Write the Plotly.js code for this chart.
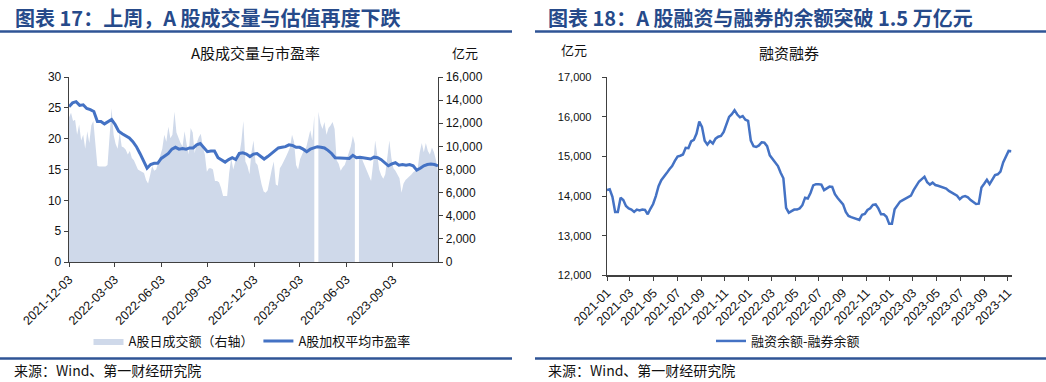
<!DOCTYPE html>
<html><head><meta charset="utf-8">
<script src="https://cdn.plot.ly/plotly-3.0.1.min.js"></script>
<style>html,body{margin:0;padding:0;background:#fff}#c{width:1046px;height:382px}</style>
</head><body><div id="c"></div>
<script>
// ---------- data: left chart (A股成交量与市盈率) ----------
const volStart = '2021-12-03';   // volume sampled every 4 days
const volStepDays = 4;
const volume = [ // 亿元 (null = market holiday gap)
 12500,12900,12200,12300,11000,11900,10500,11000,9800,11300,
 10300,11800,12200,10000,8300,8250,8250,8300,8250,8400,
 10800,13300,11000,10200,9800,11200,10000,9900,9700,9300,
 9600,9000,8800,8400,8000,7900,7800,7700,7100,6800,
 7500,8300,7900,8000,8600,9300,9800,11000,10400,11700,
 10700,11000,13000,11200,10700,10300,10000,11300,10200,9300,
 11600,11200,9400,10300,10800,11100,10000,9300,7800,8100,
 8100,8000,7000,7000,6900,6400,5700,5700,5700,7700,
 9000,8000,8700,9000,9300,10400,12200,8700,8300,7600,
 9500,10500,8600,8400,7500,6700,6100,6000,6200,7300,
 8000,8700,6700,6600,8100,8400,8700,9100,9500,9900,
 11000,10400,8400,8000,8900,9300,9700,9900,10600,11400,
 10500,12700,null,13000,12000,11500,12100,11000,11600,11800,
 12100,11500,8800,8500,7900,8200,8400,8900,9500,10000,
 10900,10200,null,9000,9200,8700,8300,7900,7500,7000,
 8500,10500,9300,8000,7500,7200,7600,8900,10500,9000,
 8100,7900,7600,7250,6000,6800,7100,7250,7400,7600,
 7800,7900,8100,9500,10300,9500,10300,9600,9300,9900,
 9500,8800,7800
];
const peStart = '2021-12-03';    // P/E sampled weekly
const peStepDays = 7;
const pe = [
 25.2,25.8,26.0,25.4,25.5,24.9,24.7,24.4,22.8,22.8,
 22.4,22.8,23.1,22.3,21.2,20.8,20.4,20.1,19.5,18.7,
 17.6,16.4,15.2,15.8,16.0,16.0,16.8,17.2,17.6,18.3,
 18.6,18.3,18.4,18.3,18.5,18.5,19.0,19.2,18.5,17.9,
 18.0,18.0,16.9,16.6,16.2,16.6,16.9,16.6,17.6,17.7,
 17.5,17.1,17.5,17.6,17.2,16.7,17.1,17.6,18.1,18.5,
 18.6,18.7,19.0,18.9,18.6,18.6,18.3,17.9,18.3,18.5,
 18.7,18.6,18.5,18.1,17.6,16.9,16.9,16.9,16.9,16.8,
 17.3,16.9,17.0,16.9,16.8,16.7,17.0,16.9,16.6,16.1,
 15.6,15.9,16.1,15.7,15.8,15.7,15.8,15.6,14.9,15.2,
 15.6,15.8,15.9,15.8,15.6
];
const leftTicks = ['2021-12-03','2022-03-03','2022-06-03','2022-09-03','2022-12-03','2023-03-03','2023-06-03','2023-09-03'];

// ---------- data: right chart (融资融券) ----------
const marginStart = '2021-01-01'; // weekly
const marginStepDays = 7;
const marginBalance = [
 14150,14170,13980,13600,13600,13960,13900,13750,13690,13660,
 13600,13660,13640,13660,13650,13540,13680,13800,14000,14250,
 14400,14480,14580,14680,14760,14890,15000,15020,15050,15220,
 15210,15380,15420,15580,15880,15750,15400,15300,15390,15330,
 15450,15500,15520,15620,15800,16000,16070,16170,16060,15990,
 16020,15930,15900,15400,15260,15240,15280,15360,15350,15260,
 15030,14940,14860,14760,14590,14450,13700,13580,13620,13660,
 13660,13690,13770,13960,13940,14080,14270,14300,14300,14290,
 14150,14190,14240,14230,14050,13950,13880,13790,13600,13500,
 13470,13440,13420,13400,13530,13550,13650,13690,13780,13790,
 13690,13540,13540,13480,13300,13300,13670,13780,13860,13900,
 13940,13970,14010,14150,14270,14370,14430,14490,14350,14290,
 14340,14280,14260,14240,14220,14190,14130,14090,14050,14010,
 13920,13980,14000,13970,13900,13850,13800,13810,14220,14310,
 14410,14300,14420,14530,14550,14620,14850,15010,15140,15130
];
const rightTicks = ['2021-01','2021-03','2021-05','2021-07','2021-09','2021-11','2022-01','2022-03','2022-05','2022-07','2022-09','2022-11','2023-01','2023-03','2023-05','2023-07','2023-09','2023-11'];

// ---------- helpers ----------
function dateSeq(start, step, n){
  const d0 = new Date(start + 'T00:00:00Z').getTime();
  const out = [];
  for (let i = 0; i < n; i++){
    out.push(new Date(d0 + i*step*86400000).toISOString().slice(0,10));
  }
  return out;
}
const W = 1046, H = 382;
const px = v => v / W, py = v => 1 - v / H;

const CJK = '"Noto Sans CJK SC", "Noto Sans", sans-serif';
const LAT = '"Liberation Sans", Arial, sans-serif';
const BLUE = '#4472C4';
const AREA = '#cfd9ea';
const HEAD = '#264a8a';
const RULE = '#2f5496';
const AX = '#404040';

// split the volume series at holiday gaps so the filled area shows the breaks
const volDates = dateSeq(volStart, volStepDays, volume.length);
const volTraces = [];
let seg = null;
volume.forEach((v, i) => {
  if (v === null) { seg = null; return; }
  if (!seg) {
    seg = {
      type:'scatter', mode:'lines', name:'A股日成交额（右轴）',
      x:[], y:[], xaxis:'x', yaxis:'y', fill:'tozeroy', fillcolor:AREA,
      line:{width:0, color:AREA}, legend:'legend', legendgroup:'vol',
      showlegend: volTraces.length === 0, hoverinfo:'skip'
    };
    volTraces.push(seg);
  }
  seg.x.push(volDates[i]); seg.y.push(v);
});

const traces = volTraces.concat([
  {
    type:'scatter', mode:'lines', name:'A股加权平均市盈率',
    x: dateSeq(peStart, peStepDays, pe.length), y: pe,
    xaxis:'x', yaxis:'y2', line:{width:3, color:BLUE}, legend:'legend'
  },
  {
    type:'scatter', mode:'lines', name:'融资余额-融券余额',
    x: dateSeq(marginStart, marginStepDays, marginBalance.length), y: marginBalance,
    xaxis:'x2', yaxis:'y3', line:{width:2.5, color:BLUE}, legend:'legend2'
  }
]);

const layout = {
  width: W, height: H, margin:{l:0,r:0,t:0,b:0},
  paper_bgcolor:'#fff', plot_bgcolor:'rgba(0,0,0,0)',
  showlegend:true,
  xaxis:{
    domain:[px(69), px(438)], anchor:'y', type:'date',
    range:['2021-12-03','2023-12-01'],
    tickvals: leftTicks, ticktext: leftTicks, tickangle:-45,
    tickfont:{family:LAT, size:12.5, color:'#111'},
    showline:true, linecolor:AX, linewidth:1.3, ticks:'outside', ticklen:4, tickcolor:AX,
    showgrid:false, zeroline:false
  },
  yaxis:{
    domain:[py(262), py(77)], anchor:'x', side:'right',
    range:[0,16000], dtick:2000, tickformat:',d',
    tickfont:{family:LAT, size:12, color:'#111'},
    showline:true, linecolor:AX, linewidth:1.3, ticks:'outside', ticklen:4, tickcolor:AX,
    showgrid:false, zeroline:false
  },
  yaxis2:{
    overlaying:'y', anchor:'x', side:'left',
    range:[0,30], dtick:5,
    tickfont:{family:LAT, size:12, color:'#111'},
    showline:true, linecolor:AX, linewidth:1.3, ticks:'outside', ticklen:4, tickcolor:AX,
    showgrid:false, zeroline:false
  },
  xaxis2:{
    domain:[px(607), px(1011.7)], anchor:'y3', type:'date',
    range:['2021-01-01','2023-11-11'],
    tickvals: rightTicks.map(t => t + '-01'), ticktext: rightTicks, tickangle:-45,
    tickfont:{family:LAT, size:12.5, color:'#111'},
    showline:true, linecolor:AX, linewidth:1.3, ticks:'outside', ticklen:4, tickcolor:AX,
    showgrid:false, zeroline:false
  },
  yaxis3:{
    domain:[py(275.3), py(77.3)], anchor:'x2',
    range:[12000,17000], dtick:1000, tickformat:',d',
    tickfont:{family:LAT, size:11, color:'#111'}, ticklabelstandoff:8,
    showline:true, linecolor:AX, linewidth:1.3, ticks:'outside', ticklen:4, tickcolor:AX,
    showgrid:false, zeroline:false
  },
  legend:{
    orientation:'h', x:px(252), xanchor:'center', y:py(341), yanchor:'middle',
    font:{family:CJK, size:13, color:'#111'}, bgcolor:'rgba(0,0,0,0)', itemwidth:30, traceorder:'normal'
  },
  legend2:{
    orientation:'h', x:px(788), xanchor:'center', y:py(341), yanchor:'middle',
    font:{family:CJK, size:13, color:'#111'}, bgcolor:'rgba(0,0,0,0)', itemwidth:30
  },
  shapes:[
    {type:'line', xref:'paper', yref:'paper', x0:0, x1:px(512), y0:py(31.5), y1:py(31.5), line:{color:RULE, width:2.5}},
    {type:'line', xref:'paper', yref:'paper', x0:px(535), x1:1, y0:py(31.5), y1:py(31.5), line:{color:RULE, width:2.5}},
    {type:'line', xref:'paper', yref:'paper', x0:0, x1:px(512), y0:py(358.5), y1:py(358.5), line:{color:RULE, width:2.5}},
    {type:'line', xref:'paper', yref:'paper', x0:px(535), x1:1, y0:py(358.5), y1:py(358.5), line:{color:RULE, width:2.5}}
  ],
  annotations:[
    {text:'<b>图表 17：上周，A 股成交量与估值再度下跌</b>', xref:'paper', yref:'paper', x:px(13), y:py(17), xanchor:'left', yanchor:'middle', showarrow:false, font:{family:CJK, size:20, color:HEAD}},
    {text:'<b>图表 18：A 股融资与融券的余额突破 1.5 万亿元</b>', xref:'paper', yref:'paper', x:px(546), y:py(17), xanchor:'left', yanchor:'middle', showarrow:false, font:{family:CJK, size:20, color:HEAD}},
    {text:'A股成交量与市盈率', xref:'paper', yref:'paper', x:px(255.5), y:py(52), xanchor:'center', yanchor:'middle', showarrow:false, font:{family:CJK, size:15, color:'#111'}},
    {text:'亿元', xref:'paper', yref:'paper', x:px(465), y:py(52), xanchor:'center', yanchor:'middle', showarrow:false, font:{family:CJK, size:13, color:'#111'}},
    {text:'融资融券', xref:'paper', yref:'paper', x:px(789), y:py(52.5), xanchor:'center', yanchor:'middle', showarrow:false, font:{family:CJK, size:15, color:'#111'}},
    {text:'亿元', xref:'paper', yref:'paper', x:px(574), y:py(49), xanchor:'center', yanchor:'middle', showarrow:false, font:{family:CJK, size:13, color:'#111'}},
    {text:'来源：Wind、第一财经研究院', xref:'paper', yref:'paper', x:px(12), y:py(369.5), xanchor:'left', yanchor:'middle', showarrow:false, font:{family:CJK, size:14, color:'#111'}},
    {text:'来源：Wind、第一财经研究院', xref:'paper', yref:'paper', x:px(546), y:py(369.5), xanchor:'left', yanchor:'middle', showarrow:false, font:{family:CJK, size:14, color:'#111'}}
  ]
};

Plotly.newPlot('c', traces, layout, {staticPlot:true, displayModeBar:false});
</script>
</body></html>
